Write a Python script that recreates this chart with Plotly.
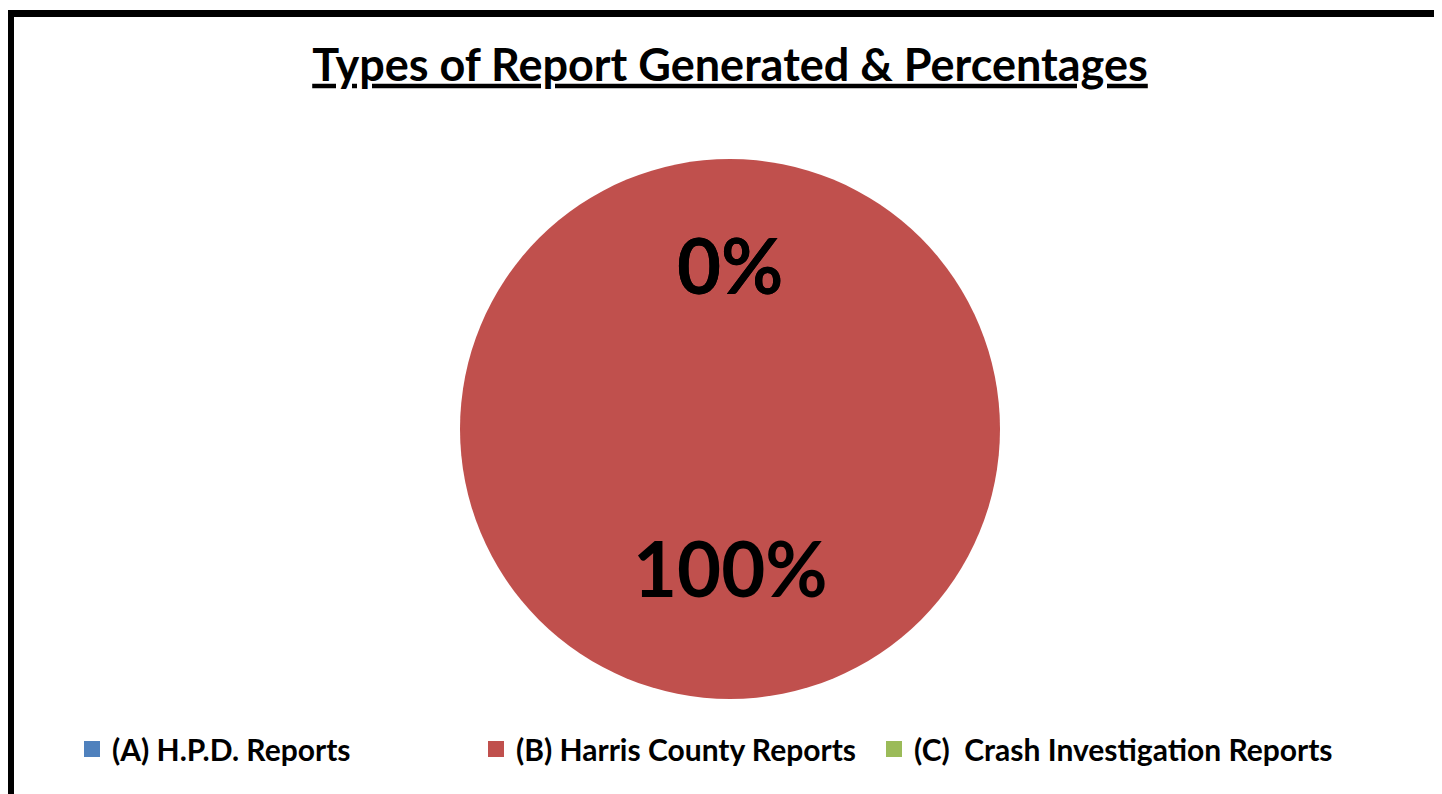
import math
import plotly.graph_objects as go

categories = ["(A) H.P.D. Reports", "(B) Harris County Reports", "(C)  Crash Investigation Reports"]
values = [0, 100, 0]
colors = ["#4F81BD", "#C0504D", "#9BBB59"]
title_text = "Types of Report Generated & Percentages"

W, H = 1442, 794
OFF = 8  # page body margin

# pie domain (paper coords)
dx0, dx1 = (460 - OFF) / W, (1000 - OFF) / W
dy0, dy1 = 1 - (699 - OFF) / H, 1 - (159 - OFF) / H

fig = go.Figure()
fig.add_trace(go.Pie(
    labels=categories,
    values=values,
    marker=dict(colors=colors, line=dict(width=0)),
    sort=False,
    direction="clockwise",
    rotation=0,
    textinfo="none",
    showlegend=False,
    domain=dict(x=[dx0, dx1], y=[dy0, dy1]),
    hoverinfo="label+percent",
))

# legend entries (one per category)
legend_widths = [359, 353, 470]
for name, col, lw in zip(categories, colors, legend_widths):
    fig.add_trace(go.Scatter(
        x=[None], y=[None], mode="markers", name=name,
        marker=dict(symbol="square", size=17, color=col),
        legendwidth=lw, hoverinfo="skip",
    ))

# percentage labels placed at each slice's mid-angle
total = sum(values)
cx, cy = (dx0 + dx1) / 2, (dy0 + dy1) / 2
rx, ry = (dx1 - dx0) / 2, (dy1 - dy0) / 2
annotations = []
cum = 0
for v in values:
    frac = v / total
    mid = (cum + frac / 2) * 2 * math.pi
    cum += frac
    r = 0.56
    annotations.append(dict(
        x=cx + r * rx * math.sin(mid), y=cy + r * ry * math.cos(mid),
        xref="paper", yref="paper", text=f"{frac:.0%}", showarrow=False,
        xanchor="center", yanchor="middle", yshift=13,
        font=dict(family="Lato", size=76, color="black", weight="bold"),
    ))

fig.update_layout(
    width=W, height=H,
    margin=dict(l=0, r=0, t=0, b=0),
    paper_bgcolor="white",
    plot_bgcolor="white",
    xaxis=dict(visible=False),
    yaxis=dict(visible=False),
    title=dict(text="<b><u>" + title_text + "</u></b>", x=(730 - OFF) / W, xanchor="center",
               y=1 - (66 - OFF - 1) / H, yanchor="middle",
               font=dict(family="Lato", size=45, color="black")),
    legend=dict(orientation="h", x=64 / W, xanchor="left", y=1 - (749 - OFF) / H, yanchor="middle",
                font=dict(family="Lato", size=30, color="black", weight="bold")),
    annotations=annotations,
    shapes=[dict(type="rect", xref="paper", yref="paper",
                 x0=(10.5 - OFF) / W, x1=1.05, y0=-0.05, y1=1 - (13.5 - OFF) / H,
                 line=dict(color="black", width=7), fillcolor="rgba(0,0,0,0)", layer="above")],
)

fig.write_html("out.html")
